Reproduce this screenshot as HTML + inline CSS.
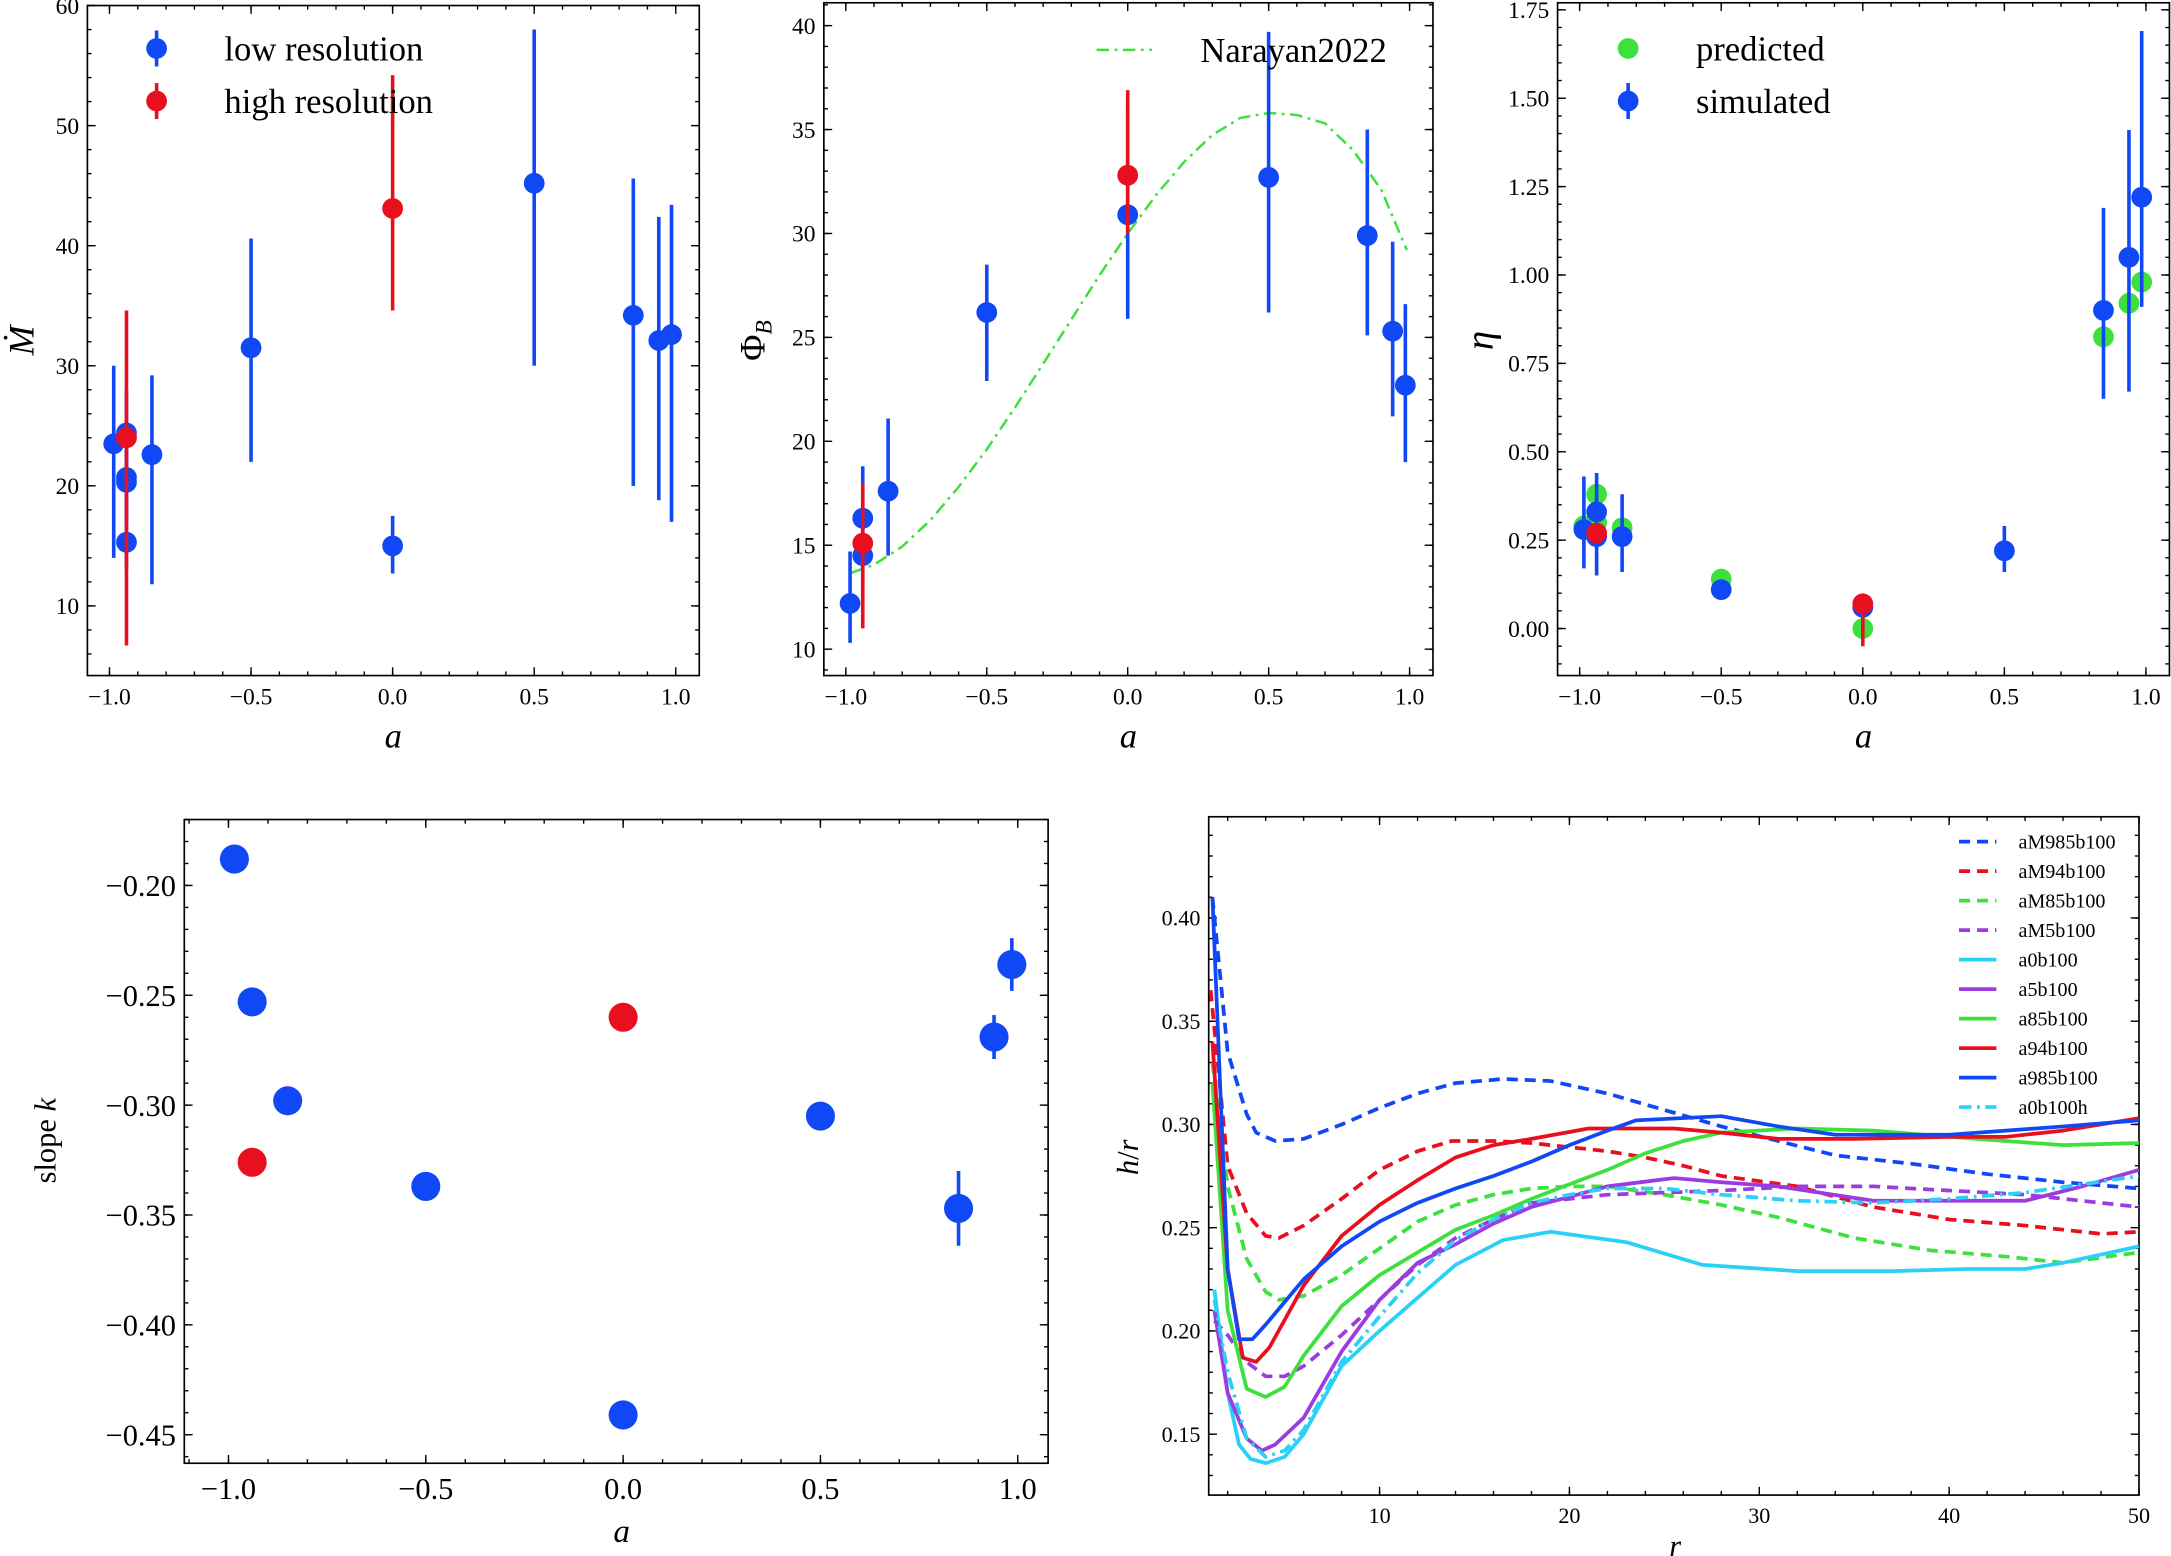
<!DOCTYPE html>
<html><head><meta charset="utf-8">
<style>
html,body{margin:0;padding:0;background:#fff;}
svg{display:block;font-family:"Liberation Serif","DejaVu Serif",serif;}
</style></head>
<body>
<svg id="fig" width="2171" height="1556" viewBox="0 0 1568 1124" xmlns="http://www.w3.org/2000/svg"></svg>
<script>
// ---------- DATA ----------
var BLUE="#1148f5", RED="#e8101f", GREEN="#3ee03e", PURPLE="#9a3ce0", CYAN="#2ad0f5";
// Panel 1: Mdot
var p1LowA=[-0.985,-0.94,-0.94,-0.94,-0.94,-0.85,-0.5,0,0.5,0.85,0.94,0.985];
var p1LowY=[23.5,24.4,20.7,20.3,15.3,22.6,31.5,15.0,45.2,34.2,32.1,32.6];
var p1LowLo=[14,20,17,17,13,11.8,22,12.7,30,20,18.8,17];
var p1LowHi=[30,28,24,24,18,29.2,40.6,17.5,58,45.6,42.4,43.4];
var p1HighA=[-0.94,0];
var p1HighY=[24.0,43.1];
var p1HighLo=[6.7,34.6];
var p1HighHi=[34.6,54.2];
// Panel 2: Phi_B
var p2LowA=[-0.985,-0.94,-0.94,-0.85,-0.5,0,0.5,0.85,0.94,0.985];
var p2LowY=[12.2,16.3,14.5,17.6,26.2,30.9,32.7,29.9,25.3,22.7];
var p2LowLo=[10.3,14.0,13.0,14.5,22.9,25.9,26.2,25.1,21.2,19.0];
var p2LowHi=[14.7,18.8,16.0,21.1,28.5,36.0,39.7,35.0,29.6,26.6];
var p2HighA=[-0.94,0];
var p2HighY=[15.1,32.8];
var p2HighLo=[11.0,30.0];
var p2HighHi=[18.0,36.9];
var narA=[-0.98,-0.9,-0.8,-0.7,-0.6,-0.5,-0.4,-0.3,-0.2,-0.1,0,0.1,0.2,0.3,0.4,0.5,0.6,0.7,0.8,0.9,0.99];
var narY=[13.68,14.06,14.94,16.21,17.8,19.62,21.62,23.73,25.87,27.99,30.0,31.84,33.44,34.74,35.56,35.8,35.7,35.3,34.0,32.1,29.2];
// Panel 3: eta
var p3PredA=[-0.985,-0.94,-0.94,-0.85,-0.5,0,0.85,0.94,0.985];
var p3PredY=[0.29,0.38,0.30,0.285,0.14,0.0,0.825,0.92,0.98];
var p3SimA=[-0.985,-0.94,-0.94,-0.85,-0.5,0,0.5,0.85,0.94,0.985];
var p3SimY=[0.28,0.33,0.26,0.26,0.11,0.06,0.22,0.90,1.05,1.22];
var p3SimLo=[0.17,0.23,0.15,0.16,0.10,0.0,0.16,0.65,0.67,0.91];
var p3SimHi=[0.43,0.44,0.37,0.38,0.12,0.08,0.29,1.19,1.41,1.69];
var p3HighA=[-0.94,0];
var p3HighY=[0.27,0.07];
var p3HighLo=[0.26,-0.05];
var p3HighHi=[0.28,0.08];
// Panel 4: slope k
var p4LowA=[-0.985,-0.94,-0.85,-0.5,0,0.5,0.85,0.94,0.985];
var p4LowY=[-0.188,-0.253,-0.298,-0.337,-0.441,-0.305,-0.347,-0.269,-0.236];
var p4LowErr=[0,0,0,0,0,0,0.017,0.010,0.012];
var p4HighA=[-0.94,0];
var p4HighY=[-0.326,-0.260];
// Panel 5: h/r profiles
var p5Names=["aM985b100","aM94b100","aM85b100","aM5b100","a0b100","a5b100","a85b100","a94b100","a985b100","a0b100h"];
var p5R=[
[1.2,2,3,3.5,4.5,6,8,10,12,14,16.5,19,22,25,28,31,34,38,42,46,50],
[1.1,2,3,4,4.7,6,8,10,12,13.8,16,18,20,22,24,26,28,32,36,40,44,48,50],
[1.2,2,3,4,4.7,6,8,10,12,14,16,18,20,22,25,28,31,35,39,43,46,50],
[1.3,2,3,4,5,6,8,10,12,14,16,18,20,22,25,28,32,36,40,44,48,50],
[1.3,2,2.6,3.2,4,5,6,8,10,12,14,16.5,19,23,27,32,37,41,44,46,50],
[1.3,2,3,3.8,4.5,6,8,10,12,14,16,18,20,22,25.5,28,31,36,40,44,47,50],
[1.2,2,3,4,5,6,8,10,12,14,16,18,20,22,24,26,28,32,36,40,43,46,50],
[1.2,2,2.8,3.5,4.2,6,8,10,12,14,16,18,21,23,25.5,28,31,35,40,43,46,50],
[1.2,2,2.6,3.3,4,6,8,10,12,14,16,18,20,22,23.5,28,31,34,40,43,46,50],
[1.3,2,3,4,5,6,8,10,12,14,16,18,20,22,25,28,32,36,40,44,47,50]];
var p5H=[
[0.41,0.335,0.305,0.296,0.292,0.293,0.300,0.308,0.315,0.320,0.322,0.321,0.315,0.307,0.299,0.292,0.285,0.281,0.276,0.272,0.269],
[0.365,0.28,0.257,0.246,0.245,0.251,0.264,0.278,0.287,0.292,0.292,0.291,0.289,0.287,0.284,0.280,0.275,0.270,0.260,0.254,0.251,0.247,0.248],
[0.33,0.27,0.235,0.219,0.215,0.217,0.227,0.240,0.253,0.261,0.266,0.269,0.270,0.270,0.266,0.261,0.255,0.245,0.239,0.236,0.233,0.238],
[0.205,0.198,0.185,0.178,0.178,0.183,0.198,0.215,0.232,0.245,0.254,0.262,0.264,0.266,0.267,0.268,0.270,0.270,0.268,0.266,0.262,0.260],
[0.22,0.17,0.145,0.138,0.136,0.139,0.150,0.183,0.200,0.216,0.232,0.244,0.248,0.243,0.232,0.229,0.229,0.230,0.230,0.233,0.241],
[0.21,0.17,0.148,0.142,0.145,0.158,0.190,0.215,0.233,0.242,0.252,0.260,0.265,0.270,0.274,0.272,0.270,0.263,0.263,0.263,0.270,0.278],
[0.32,0.21,0.172,0.168,0.173,0.188,0.212,0.227,0.238,0.249,0.256,0.264,0.271,0.278,0.286,0.292,0.296,0.298,0.297,0.294,0.292,0.290,0.291],
[0.34,0.23,0.187,0.185,0.192,0.222,0.246,0.261,0.273,0.284,0.290,0.293,0.298,0.298,0.298,0.296,0.293,0.293,0.294,0.294,0.297,0.303],
[0.41,0.23,0.196,0.196,0.203,0.225,0.241,0.253,0.262,0.269,0.275,0.282,0.290,0.297,0.302,0.304,0.299,0.295,0.295,0.297,0.299,0.302],
[0.215,0.18,0.148,0.139,0.142,0.152,0.185,0.207,0.228,0.244,0.254,0.262,0.266,0.269,0.269,0.266,0.263,0.262,0.264,0.267,0.271,0.275]];
var p5Colors=[BLUE,RED,GREEN,PURPLE,CYAN,PURPLE,GREEN,RED,BLUE,CYAN];
var p5Dash=["8,5","8,5","8,5","8,5","","","","","","9,4,2,4"];

// ---------- helpers ----------
var NS="http://www.w3.org/2000/svg", svg=document.getElementById('fig');
function mk(tag,attrs,parent){var e=document.createElementNS(NS,tag);for(var k in attrs)e.setAttribute(k,attrs[k]);(parent||svg).appendChild(e);return e;}
function fmt(v,d){var s=Math.abs(v).toFixed(d);return (v<-1e-9?"\u2212":"")+s;}

function panel(c){
  var g=mk('g',{});
  
  
  var sx=function(v){return c.x0+(v-c.xmin)/(c.xmax-c.xmin)*(c.x1-c.x0);};
  var sy=function(v){return c.y1-(v-c.ymin)/(c.ymax-c.ymin)*(c.y1-c.y0);};
  var ax=mk('g',{stroke:'#000','stroke-width':1},g);
  
  
  mk('rect',{x:c.x0,y:c.y0,width:c.x1-c.x0,height:c.y1-c.y0,fill:'none','stroke-width':1.2},ax);
  var eps=1e-9,v;
  for(v=Math.ceil(c.xmin/c.xminor-eps)*c.xminor;v<=c.xmax+eps;v+=c.xminor){var X=sx(v);
    mk('line',{x1:X,x2:X,y1:c.y1,y2:c.y1-3},ax);mk('line',{x1:X,x2:X,y1:c.y0,y2:c.y0+3},ax);}
  for(v=Math.ceil(c.ymin/c.yminor-eps)*c.yminor;v<=c.ymax+eps;v+=c.yminor){var Y=sy(v);
    mk('line',{x1:c.x0,x2:c.x0+3,y1:Y,y2:Y},ax);mk('line',{x1:c.x1,x2:c.x1-3,y1:Y,y2:Y},ax);}
  c.xticks.forEach(function(t){var X=sx(t);
    mk('line',{x1:X,x2:X,y1:c.y1,y2:c.y1-6},ax);mk('line',{x1:X,x2:X,y1:c.y0,y2:c.y0+6},ax);
    var tx=mk('text',{x:X,y:c.y1+c.tfs+4,'text-anchor':'middle','font-size':c.tfs,fill:'#000',stroke:'none'},g);
    
    tx.textContent=fmt(t,c.xd);});
  c.yticks.forEach(function(t){var Y=sy(t);
    mk('line',{x1:c.x0,x2:c.x0+6,y1:Y,y2:Y},ax);mk('line',{x1:c.x1,x2:c.x1-6,y1:Y,y2:Y},ax);
    var tx=mk('text',{x:c.x0-6,y:Y+c.tfs*0.35,'text-anchor':'end','font-size':c.tfs,fill:'#000',stroke:'none'},g);
    
    tx.textContent=fmt(t,c.yd);});
  var clip=mk('clipPath',{id:c.name+'-clip'},g);
  mk('rect',{x:c.x0,y:c.y0,width:c.x1-c.x0,height:c.y1-c.y0},clip);
  var plot=mk('g',{'clip-path':'url(#'+c.name+'-clip)'},g);
  return {g:g,plot:plot,sx:sx,sy:sy};
}
function errpts(P,A,Y,lo,hi,col,r,name){
  for(var i=0;i<A.length;i++){
    if(lo&&hi&&hi[i]>lo[i]){var l=mk('line',{x1:P.sx(A[i]),x2:P.sx(A[i]),y1:P.sy(lo[i]),y2:P.sy(hi[i]),stroke:col,'stroke-width':2.6},P.plot);
      }
    var c=mk('circle',{cx:P.sx(A[i]),cy:P.sy(Y[i]),r:r,fill:col},P.plot);
    
  }
}
function label(txt,x,y,fs,rot,style,name){
  var t=mk('text',{x:x,y:y,'text-anchor':'middle','font-size':fs,fill:'#000','font-style':style||'normal'});
  if(rot)t.setAttribute('transform','rotate(-90 '+x+' '+y+')');
  
  t.innerHTML=txt;return t;
}
function legMarker(x,y,col,bar,r,name){
  var g=mk('g',{});
  if(bar)mk('line',{x1:x,x2:x,y1:y-13,y2:y+13,stroke:col,'stroke-width':2.6},g);
  mk('circle',{cx:x,cy:y,r:r,fill:col},g);
}
function legText(txt,x,y,fs,name){
  var t=mk('text',{x:x,y:y+fs*0.35,'font-size':fs,fill:'#000'});
  t.textContent=txt;
}

// ---------- Panel 1 ----------
var P1=panel({name:'mdot-panel',x0:63,x1:505,y0:4,y1:488,xmin:-1.078,xmax:1.083,ymin:4.2,ymax:60,
  xticks:[-1,-0.5,0,0.5,1],yticks:[10,20,30,40,50,60],xminor:0.1,yminor:2,xd:1,yd:0,tfs:17});
errpts(P1,p1LowA,p1LowY,p1LowLo,p1LowHi,BLUE,7.5,'low-res');
errpts(P1,p1HighA,p1HighY,p1HighLo,p1HighHi,RED,7.5,'high-res');
label('<tspan font-style="italic">Ṁ</tspan>',24,246,26,true,'normal','y-axis-title');
label('a',284,540,25,false,'italic','x-axis-title');
legMarker(113,35,BLUE,true,7.5,'legend-low-marker');legText('low resolution',162,35,25,'legend-low-label');
legMarker(113,73,RED,true,7.5,'legend-high-marker');legText('high resolution',162,73,25,'legend-high-label');

// ---------- Panel 2 ----------
var P2=panel({name:'phib-panel',x0:595,x1:1035,y0:2,y1:488,xmin:-1.078,xmax:1.083,ymin:8.73,ymax:41.1,
  xticks:[-1,-0.5,0,0.5,1],yticks:[10,15,20,25,30,35,40],xminor:0.1,yminor:1,xd:1,yd:0,tfs:17});
var nd='';for(var i=0;i<narA.length;i++)nd+=(i?'L':'M')+P2.sx(narA[i]).toFixed(1)+','+P2.sy(narY[i]).toFixed(1);
var nl=mk('path',{d:nd,fill:'none',stroke:GREEN,'stroke-width':1.8,'stroke-dasharray':'9,4,2,4'},P2.plot);

errpts(P2,p2LowA,p2LowY,p2LowLo,p2LowHi,BLUE,7.5,'low-res');
errpts(P2,p2HighA,p2HighY,p2HighLo,p2HighHi,RED,7.5,'high-res');
label('Φ<tspan font-style="italic" font-size="17" dy="5">B</tspan>',552,246,26,true,'normal','y-axis-title');
label('a',815,540,25,false,'italic','x-axis-title');
var ll=mk('line',{x1:792,x2:832,y1:36,y2:36,stroke:GREEN,'stroke-width':1.8,'stroke-dasharray':'9,4,2,4'});

legText('Narayan2022',867,36,25,'legend-narayan-label');

// ---------- Panel 3 ----------
var P3=panel({name:'eta-panel',x0:1125,x1:1567,y0:2,y1:488,xmin:-1.078,xmax:1.083,ymin:-0.133,ymax:1.77,
  xticks:[-1,-0.5,0,0.5,1],yticks:[0,0.25,0.5,0.75,1,1.25,1.5,1.75],xminor:0.1,yminor:0.05,xd:1,yd:2,tfs:17});
errpts(P3,p3PredA,p3PredY,null,null,GREEN,7.5,'predicted');
errpts(P3,p3SimA,p3SimY,p3SimLo,p3SimHi,BLUE,7.5,'simulated');
errpts(P3,p3HighA,p3HighY,p3HighLo,p3HighHi,RED,7.5,'high-res');
label('η',1078,246,28,true,'italic','y-axis-title');
label('a',1346,540,25,false,'italic','x-axis-title');
legMarker(1176,35,GREEN,false,7.5,'legend-predicted-marker');legText('predicted',1225,35,25,'legend-predicted-label');
legMarker(1176,73,BLUE,true,7.5,'legend-simulated-marker');legText('simulated',1225,73,25,'legend-simulated-label');

// ---------- Panel 4 ----------
var P4=panel({name:'slope-panel',x0:133,x1:757,y0:592,y1:1057,xmin:-1.112,xmax:1.077,ymin:-0.463,ymax:-0.17,
  xticks:[-1,-0.5,0,0.5,1],yticks:[-0.45,-0.4,-0.35,-0.3,-0.25,-0.2],xminor:0.1,yminor:0.01,xd:1,yd:2,tfs:22});
var lo4=p4LowY.map(function(v,i){return v-p4LowErr[i];}), hi4=p4LowY.map(function(v,i){return v+p4LowErr[i];});
errpts(P4,p4LowA,p4LowY,lo4,hi4,BLUE,10.5,'low-res');
errpts(P4,p4HighA,p4HighY,null,null,RED,10.5,'high-res');
label('slope <tspan font-style="italic">k</tspan>',40,824,22,true,'normal','y-axis-title');
label('a',449,1114,24,false,'italic','x-axis-title');

// ---------- Panel 5 ----------
var P5=panel({name:'hr-panel',x0:873,x1:1545,y0:590,y1:1080,xmin:1,xmax:50,ymin:0.1205,ymax:0.449,
  xticks:[10,20,30,40,50],yticks:[0.15,0.2,0.25,0.3,0.35,0.4],xminor:2,yminor:0.01,xd:0,yd:2,tfs:16});
for(var s=0;s<p5Names.length;s++){
  var d='';for(var j=0;j<p5R[s].length;j++)d+=(j?'L':'M')+P5.sx(p5R[s][j]).toFixed(1)+','+P5.sy(p5H[s][j]).toFixed(1);
  var pa=mk('path',{d:d,fill:'none',stroke:p5Colors[s],'stroke-width':2.7,'stroke-linejoin':'round'},P5.plot);
  if(p5Dash[s])pa.setAttribute('stroke-dasharray',p5Dash[s]);
  
  var ly=608+s*21.3;
  var le=mk('line',{x1:1415,x2:1442,y1:ly,y2:ly,stroke:p5Colors[s],'stroke-width':2.7});
  if(p5Dash[s])le.setAttribute('stroke-dasharray',p5Dash[s]);
  
  legText(p5Names[s],1458,ly,14.5,'legend-label-'+p5Names[s]);
}
label('<tspan font-style="italic">h</tspan>/<tspan font-style="italic">r</tspan>',822,836,22,true,'normal','y-axis-title');
label('r',1210,1124,22,false,'italic','x-axis-title');
</script>
</body></html>
